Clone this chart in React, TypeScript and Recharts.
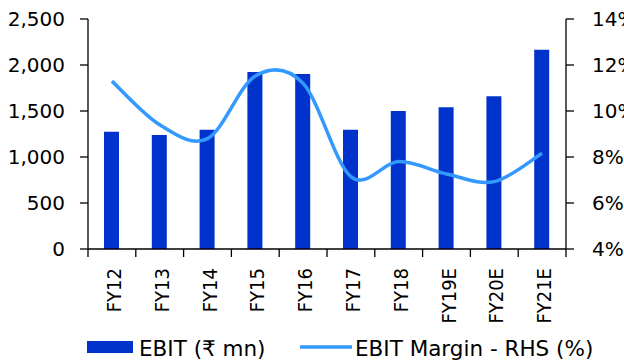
import { ComposedChart, Bar, Line, XAxis, YAxis, Legend } from 'recharts'

const years = ['FY12', 'FY13', 'FY14', 'FY15', 'FY16', 'FY17', 'FY18', 'FY19E', 'FY20E', 'FY21E']
const ebit = [1275, 1239, 1297, 1924, 1902, 1297, 1500, 1540, 1660, 2166]
const ebitMargin = [11.3, 9.4, 8.8, 11.52, 11.2, 7.15, 7.8, 7.26, 6.93, 8.16]
const leftTicks = [0, 500, 1000, 1500, 2000, 2500]
const rightTicks = [4, 6, 8, 10, 12, 14]

const data = years.map((y, i) => ({ year: y, ebit: ebit[i], margin: ebitMargin[i] }))

const BAR = '#0033CC'
const LINE = '#3399FF'
const FONT = "'DejaVu Sans', Verdana, sans-serif"

// excel-style smoothed line (catmull-rom, 1/6 control points)
function excelSmooth(context: any) {
  let pts: number[][] = []
  return {
    areaStart() {},
    areaEnd() {},
    lineStart() { pts = [] },
    point(x: number, y: number) { pts.push([x, y]) },
    lineEnd() {
      if (!pts.length) return
      context.moveTo(pts[0][0], pts[0][1])
      for (let i = 0; i < pts.length - 1; i++) {
        const p0 = pts[i - 1] || pts[i]
        const p1 = pts[i]
        const p2 = pts[i + 1]
        const p3 = pts[i + 2] || p2
        context.bezierCurveTo(
          p1[0] + (p2[0] - p0[0]) / 6, p1[1] + (p2[1] - p0[1]) / 6,
          p2[0] - (p3[0] - p1[0]) / 6, p2[1] - (p3[1] - p1[1]) / 6,
          p2[0], p2[1],
        )
      }
    },
  }
}

const BAND = 478 / years.length

function YearTick(props: any) {
  const { x, y, payload, index } = props
  const last = index === years.length - 1
  return (
    <g>
      <line x1={x - BAND / 2} x2={x - BAND / 2} y1={y - 8} y2={y} stroke="#000" strokeWidth={1.3} />
      {last && <line x1={x + BAND / 2} x2={x + BAND / 2} y1={y - 8} y2={y} stroke="#000" strokeWidth={1.3} />}
      <text
        transform={`translate(${x + 2},${y + 11}) rotate(-90)`}
        textAnchor="end"
        dominantBaseline="central"
        fontFamily={"'DejaVu Sans Condensed', 'DejaVu Sans', sans-serif"}
        style={{ fontStretch: 'condensed' }}
        fontSize={20}
        fill="#000"
      >
        {payload.value}
      </text>
    </g>
  )
}

function ChartLegend() {
  return (
    <svg width={624} height={30}>
      <rect x={87} y={8} width={46} height={12} fill={BAR} />
      <text x={139} y={15} dominantBaseline="central" fontFamily={FONT} fontSize={21.5} fill="#000">EBIT (₹ mn)</text>
      <line x1={300} x2={352} y1={14} y2={14} stroke={LINE} strokeWidth={3.5} />
      <text x={355} y={15} dominantBaseline="central" fontFamily={FONT} fontSize={21.5} fill="#000">EBIT Margin - RHS (%)</text>
    </svg>
  )
}

export default function App() {
  return (
    <div style={{ position: 'fixed', left: 0, top: 0, background: '#fff' }}>
      <ComposedChart width={624} height={363} data={data} margin={{ top: 19, right: 0, left: 0, bottom: 0 }}>
        <XAxis
          dataKey="year"
          height={84}
          interval={0}
          tickLine={false}
          tickSize={8}
          tickMargin={0}
          axisLine={{ stroke: '#000', strokeWidth: 1.3 }}
          tick={<YearTick />}
        />
        <YAxis
          yAxisId="left"
          width={88}
          domain={[0, 2500]}
          ticks={leftTicks}
          tickFormatter={(v) => v.toLocaleString('en-US')}
          tickSize={8}
          tickMargin={15}
          tickLine={{ stroke: '#000', strokeWidth: 1.3 }}
          axisLine={{ stroke: '#000', strokeWidth: 1.3 }}
          tick={{ fill: '#000', fontSize: 20, fontFamily: FONT }}
        />
        <YAxis
          yAxisId="right"
          orientation="right"
          width={58}
          domain={[4, 14]}
          ticks={rightTicks}
          tickFormatter={(v) => `${v}%`}
          tickSize={8}
          tickMargin={18}
          tickLine={{ stroke: '#000', strokeWidth: 1.3 }}
          axisLine={{ stroke: '#000', strokeWidth: 1.3 }}
          tick={{ fill: '#000', fontSize: 20, fontFamily: FONT, textAnchor: 'start' }}
        />
        <Legend verticalAlign="bottom" height={30} content={<ChartLegend />} wrapperStyle={{ left: 0, width: 624 }} />
        <Bar yAxisId="left" dataKey="ebit" fill={BAR} barSize={15} isAnimationActive={false} />
        <Line
          yAxisId="right"
          dataKey="margin"
          type={excelSmooth as any}
          stroke={LINE}
          strokeWidth={3.5}
          dot={false}
          activeDot={false}
          isAnimationActive={false}
        />
      </ComposedChart>
    </div>
  )
}
